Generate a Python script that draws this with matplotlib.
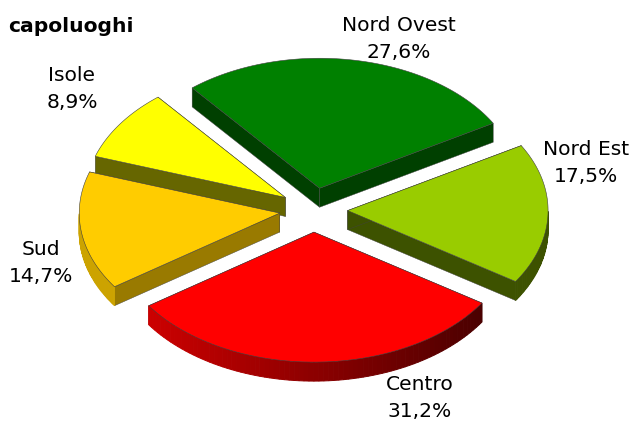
import numpy as np
import matplotlib
matplotlib.use("Agg")
import matplotlib.pyplot as plt
from matplotlib.colors import to_rgb
from matplotlib.patches import Polygon

# Data
areas = ['Nord Ovest', 'Isole', 'Sud', 'Centro', 'Nord Est']
shares = [27.6, 8.9, 14.7, 31.2, 17.5]
chart_title = 'capoluoghi'

# Colours, same order as areas
top_colors = ['#008000', '#FFFF00', '#FFCC00', '#FF0000', '#99CC00']
cut_colors = ['#004000', '#666600', '#997A00', '#990000', '#3D5200']
rim_left = ['#004000', '#666600', '#CCA300', '#CC0000', '#3D5200']
rim_right = ['#004000', '#666600', '#CCA300', '#4A0000', '#3D5200']
label_pos = [(399, 39), (72, 89), (41, 263), (420, 398), (586, 163)]

# Geometry of the pie, in pixels of the picture
CX, CY = 313.5, 210
RX, RY = 200.5, 130
DEPTH = 19
EXPLODE = 0.17
START = 30.0
EDGE = '#404040'


def ring(t):
    return np.cos(t) * RX, -np.sin(t) * RY


def draw_slice(ax, a0, a1, idx):
    mid = (a0 + a1) / 2
    dx, dy = ring(mid)
    ox, oy = CX + EXPLODE * dx, CY + EXPLODE * dy

    t = np.linspace(a0, a1, 80)
    xs, ys = ring(t)
    xs, ys = xs + ox, ys + oy

    # the two cut faces
    for k in (0, -1):
        quad = [(ox, oy), (xs[k], ys[k]), (xs[k], ys[k] + DEPTH), (ox, oy + DEPTH)]
        ax.add_patch(Polygon(quad, closed=True, fc=cut_colors[idx], ec=EDGE, lw=0.3))

    # outer rim, only the part that faces us
    c0 = np.array(to_rgb(rim_left[idx]))
    c1 = np.array(to_rgb(rim_right[idx]))
    x_lo, x_hi = xs.min(), xs.max()
    order = np.argsort(xs[:-1])
    for i in order:
        if np.sin((t[i] + t[i + 1]) / 2) >= 0:
            continue
        f = (xs[i] - x_lo) / (x_hi - x_lo)
        col = c0 + (c1 - c0) * f
        seg = [(xs[i], ys[i]), (xs[i + 1], ys[i + 1]),
               (xs[i + 1], ys[i + 1] + DEPTH), (xs[i], ys[i] + DEPTH)]
        ax.add_patch(Polygon(seg, closed=True, fc=col, ec=col, lw=0.7))

    # top surface
    pts = np.column_stack([np.r_[ox, xs], np.r_[oy, ys]])
    ax.add_patch(Polygon(pts, closed=True, fc=top_colors[idx], ec=EDGE, lw=0.4))


fig = plt.figure(figsize=(6.33, 4.23), dpi=100)
ax = fig.add_axes([0, 0, 1, 1])
ax.set_xlim(0, 633)
ax.set_ylim(423, 0)
ax.axis('off')

# angles come from the shares
vals = np.array(shares)
sweep = np.radians(vals / vals.sum() * 360)
starts = np.radians(START) + np.r_[0, np.cumsum(sweep)[:-1]]

# back to front
for idx in [0, 1, 4, 2, 3]:
    draw_slice(ax, starts[idx], starts[idx] + sweep[idx], idx)

for name, val, (x, y) in zip(areas, shares, label_pos):
    txt = "{}\n{}%".format(name, str(val).replace('.', ','))
    ax.text(x, y, txt, ha='center', va='center', fontsize=14.6, color='black', linespacing=1.5)

ax.text(8, 26, chart_title, ha='left', va='center', fontsize=14.6, fontweight='bold', color='black')

fig.savefig('out.png', dpi=100)
